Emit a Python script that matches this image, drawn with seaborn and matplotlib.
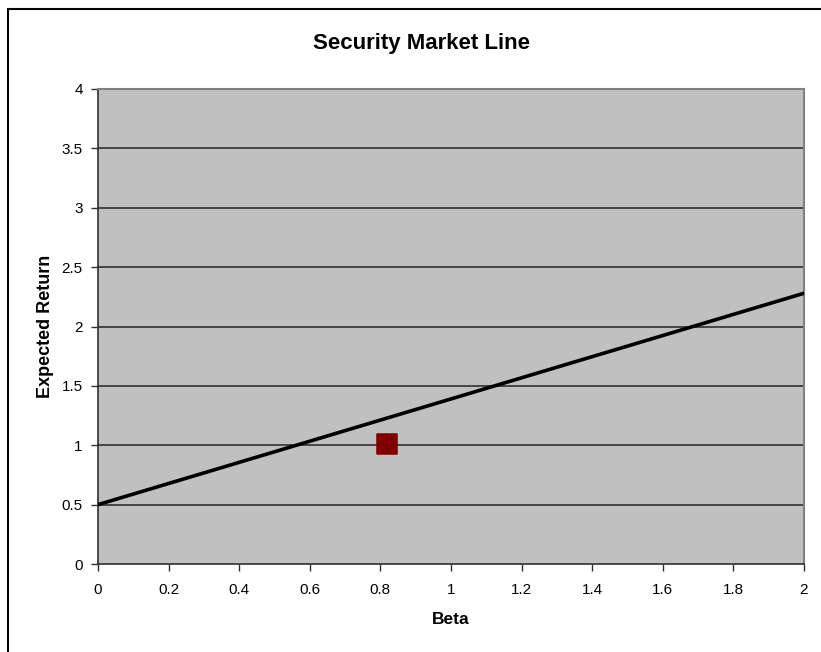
import matplotlib
matplotlib.use("Agg")
import matplotlib.pyplot as plt
import matplotlib.patches as mpatches
import seaborn as sns
import pandas as pd

# Security market line endpoints and the single security
sml_beta = [0.0, 2.0]
sml_return = [0.5, 2.28]
stock_beta = [0.82]
stock_return = [1.01]

x_ticks = [0, 0.2, 0.4, 0.6, 0.8, 1, 1.2, 1.4, 1.6, 1.8, 2]
y_ticks = [0, 0.5, 1, 1.5, 2, 2.5, 3, 3.5, 4]

sns.set_theme(style="white")
plt.rcParams["font.family"] = ["Liberation Sans", "DejaVu Sans"]
plt.rcParams["text.color"] = "black"
plt.rcParams["axes.labelcolor"] = "black"

W, H = 821, 652
fig = plt.figure(figsize=(W / 100, H / 100), dpi=100)
ax = fig.add_axes([98 / W, 1 - 564 / H, (804 - 98) / W, (564 - 89) / H])
ax.set_facecolor("#C0C0C0")

line_df = pd.DataFrame({"Beta": sml_beta, "Expected Return": sml_return})
pt_df = pd.DataFrame({"Beta": stock_beta, "Expected Return": stock_return})

for yv in y_ticks[1:]:
    ax.axhline(yv, color="#303030", lw=1.2, zorder=1)

sns.lineplot(data=line_df, x="Beta", y="Expected Return", color="black",
             lw=2.6, ax=ax, zorder=3)
sns.scatterplot(data=pt_df, x="Beta", y="Expected Return", marker="s",
                s=190, color="#800000", edgecolor="#800000", ax=ax, zorder=4)

ax.set_xlim(0, 2)
ax.set_ylim(0, 4)
ax.set_xticks(x_ticks)
ax.set_xticklabels([f"{v:g}" for v in x_ticks])
ax.set_yticks(y_ticks)
ax.set_yticklabels([f"{v:g}" for v in y_ticks])
ax.tick_params(axis="both", direction="out", length=5, width=1, color="#303030",
               labelsize=11, bottom=True, left=True, labelcolor="black")
ax.tick_params(axis="x", pad=9)
ax.tick_params(axis="y", pad=6)

for side in ["top", "right"]:
    ax.spines[side].set_color("#808080")
    ax.spines[side].set_linewidth(1.5)
for side in ["left", "bottom"]:
    ax.spines[side].set_color("#303030")
    ax.spines[side].set_linewidth(1.2)

ax.set_xlabel("Beta", fontsize=12.5, fontweight="bold")
ax.set_ylabel("Expected Return", fontsize=13, fontweight="bold")
ax.xaxis.set_label_coords(0.5, -(619 - 564) / (564 - 89), transform=ax.transAxes)
ax.xaxis.label.set_va("center")
ax.yaxis.set_label_coords(-(98 - 45) / (804 - 98), 0.5, transform=ax.transAxes)
ax.yaxis.label.set_va("center")

fig.text(421 / W, 1 - 43.5 / H, "Security Market Line", ha="center", va="center",
         fontsize=16, fontweight="bold")

# chart frame
frame = mpatches.Rectangle((8 / W, -0.1), 1.2, 1 - 9 / H + 0.1,
                           transform=fig.transFigure, fill=False,
                           edgecolor="black", lw=1.5, clip_on=False)
fig.add_artist(frame)

fig.savefig("out.png", dpi=100, facecolor="white")
